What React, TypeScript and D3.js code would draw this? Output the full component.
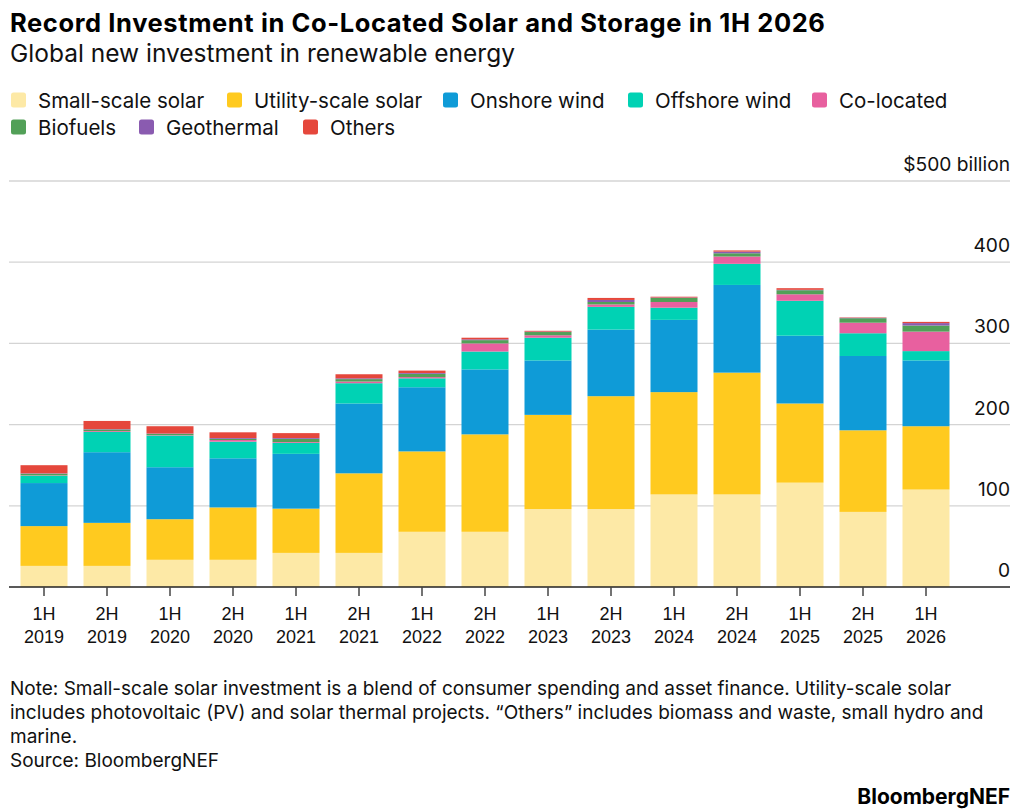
import React from "react";
import * as d3 from "d3";

const periods = ["1H 2019","2H 2019","1H 2020","2H 2020","1H 2021","2H 2021","1H 2022","2H 2022","1H 2023","2H 2023","1H 2024","2H 2024","1H 2025","2H 2025","1H 2026"];

const smallScaleSolar = [26, 26, 33.5, 33.5, 42, 42, 68, 68, 96, 96, 114, 114, 128.5, 92.5, 120];
const utilityScaleSolar = [49, 53, 50, 64.5, 54.5, 98, 99, 120, 116, 139, 126, 150, 97.5, 100.5, 78];
const onshoreWind = [53, 87, 64, 60.5, 67.5, 86, 79, 80, 67, 82, 89, 108, 83.5, 91.5, 81];
const offshoreWind = [9, 25, 39, 20.5, 13.5, 25, 11, 22, 28, 28, 15, 26, 43, 28, 11.5];
const coLocated = [0.5, 1, 0.5, 2, 1, 2, 1.5, 10, 3, 3, 7, 9, 8, 13, 24];
const biofuels = [2, 2, 1.5, 1.5, 4, 3, 4, 4, 4, 3, 5, 4, 5, 5.5, 7.5];
const geothermal = [0.5, 0.5, 0.5, 1, 1, 1, 1, 1, 0.5, 2.5, 0.5, 2, 0.5, 0.5, 3];
const others = [10, 10, 9, 7, 6, 5, 3, 2, 1, 2.5, 1, 1.5, 2, 0.5, 1.5];

const seriesNames = ["Small-scale solar","Utility-scale solar","Onshore wind","Offshore wind","Co-located","Biofuels","Geothermal","Others"];
const seriesColors = ["#fde9a6","#ffca1f","#0f9bd7","#00d2b4","#e8609f","#52a058","#8a5bb0","#e5473c"];
const yTicks = [0, 100, 200, 300, 400, 500];

const FONT = "Inter, 'Liberation Sans', Arial, sans-serif";
const NUMFONT = "'Liberation Sans', Arial, Helvetica, sans-serif";

export default function App() {
  const W = 1024, H = 812;
  const seriesValues = [smallScaleSolar, utilityScaleSolar, onshoreWind, offshoreWind, coLocated, biofuels, geothermal, others];
  const table = periods.map((p, i) => {
    const row: any = { period: p };
    seriesNames.forEach((n, k) => { row[n] = seriesValues[k][i]; });
    return row;
  });
  const stack = d3.stack().keys(seriesNames)(table as any);

  const x = d3.scaleBand().domain(periods).range([12.5, 957.5]).paddingInner(0.254).paddingOuter(0.127);
  const y = d3.scaleLinear().domain([0, 500]).range([587, 181]);
  const gridX0 = 9, gridX1 = 1010;

  const legendRows = [
    [ [0, 11], [1, 227], [2, 443], [3, 628], [4, 812] ],
    [ [5, 11], [6, 139], [7, 303] ],
  ];
  const legendY = [100, 127];

  return (
    <div style={{ position: "absolute", left: 0, top: 0 }}>
      <svg width={W} height={H} style={{ display: "block", background: "#fff" }} fontFamily={FONT}>
        <text x={10} y={32} fontSize={25.5} letterSpacing={0.6} fontWeight={700} fill="#000">Record Investment in Co-Located Solar and Storage in 1H 2026</text>
        <text x={10} y={62} fontSize={24.5} fill="#111">Global new investment in renewable energy</text>

        {legendRows.map((row, r) => row.map(([k, lx]) => (
          <g key={`lg${k}`}>
            <rect x={lx} y={legendY[r] - 7.5} width={15} height={15} rx={2.5} fill={seriesColors[k]} />
            <text x={lx + 27} y={legendY[r] + 7.5} fontSize={20.5} fill="#111">{seriesNames[k]}</text>
          </g>
        )))}

        {yTicks.filter(t => t > 0).map(t => (
          <line key={`g${t}`} x1={gridX0} x2={gridX1} y1={y(t)} y2={y(t)} stroke="#d4d4d4" strokeWidth={1.3} />
        ))}
        {yTicks.map(t => (
          <text key={`yl${t}`} x={gridX1} y={y(t) - 10} textAnchor="end" fontSize={19.2} fill="#111">
            {t === 500 ? "$500 billion" : String(t)}
          </text>
        ))}

        {stack.map((s, k) => (
          <g key={`s${k}`} fill={seriesColors[k]}>
            {s.map((d, i) => (
              <rect key={i} x={x(periods[i])} width={x.bandwidth()} y={y(d[1])} height={Math.max(0, y(d[0]) - y(d[1]))} />
            ))}
          </g>
        ))}

        <line x1={gridX0} x2={gridX1} y1={y(0)} y2={y(0)} stroke="#222" strokeWidth={1.6} />
        {periods.map(p => {
          const cx = (x(p) as number) + x.bandwidth() / 2;
          const [h, yr] = p.split(" ");
          return (
            <g key={`xt${p}`}>
              <line x1={cx} x2={cx} y1={y(0)} y2={y(0) + 9} stroke="#444" strokeWidth={1.5} />
              <text x={cx} y={620} textAnchor="middle" fontSize={18} fill="#111" fontFamily={NUMFONT}>{h}</text>
              <text x={cx} y={643} textAnchor="middle" fontSize={18} fill="#111" fontFamily={NUMFONT}>{yr}</text>
            </g>
          );
        })}

        <g fontSize={19} fill="#111">
          <text x={10} y={695}>Note: Small-scale solar investment is a blend of consumer spending and asset finance. Utility-scale solar</text>
          <text x={10} y={719}>includes photovoltaic (PV) and solar thermal projects. “Others” includes biomass and waste, small hydro and</text>
          <text x={10} y={743}>marine.</text>
          <text x={10} y={767}>Source: BloombergNEF</text>
        </g>
        <text x={1010} y={804} textAnchor="end" fontSize={21} fontWeight={700} fill="#000">BloombergNEF</text>
      </svg>
    </div>
  );
}
